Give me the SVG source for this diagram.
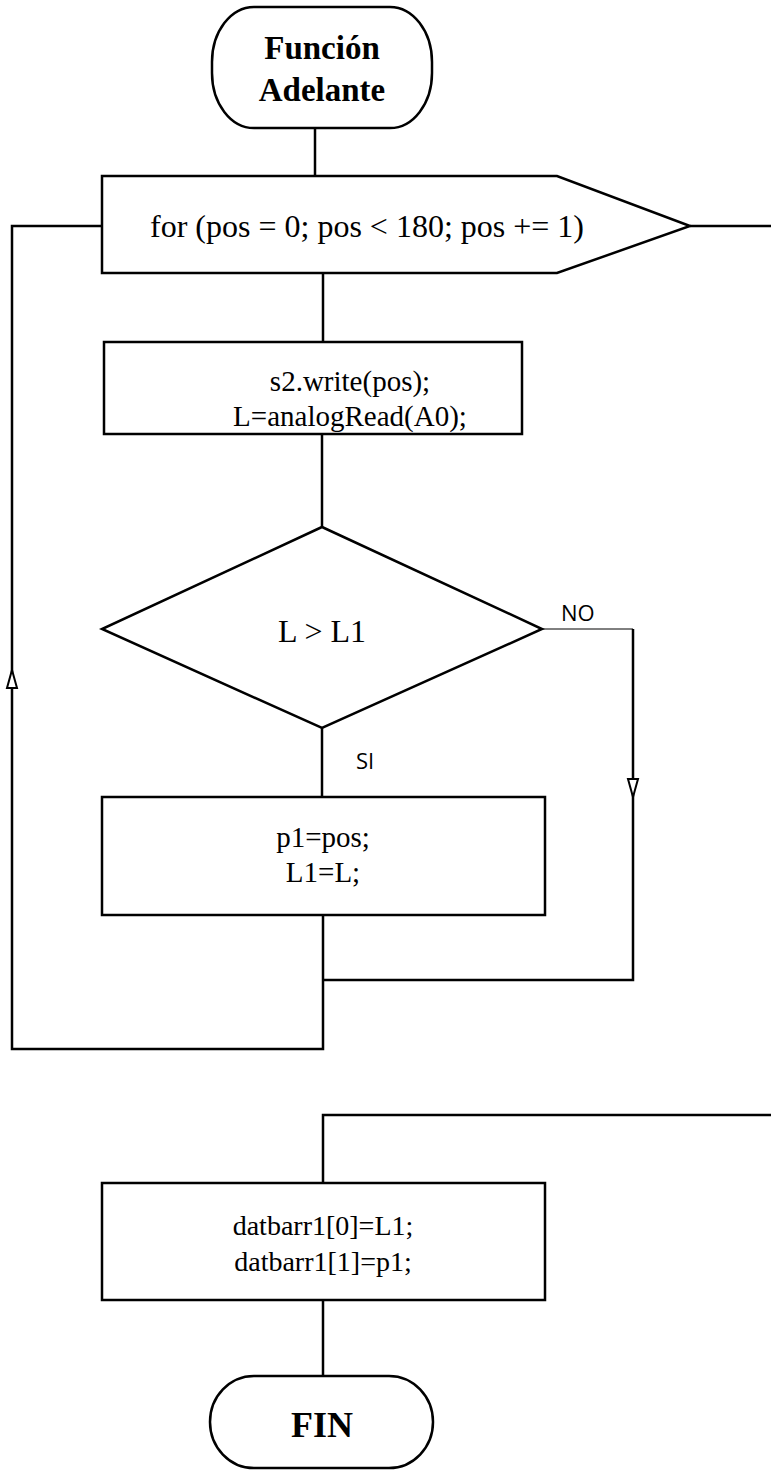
<svg xmlns="http://www.w3.org/2000/svg" width="771" height="1473" viewBox="0 0 771 1473">
<style>
.s{fill:#fff;stroke:#000;stroke-width:2.5}
.c{fill:none;stroke:#000;stroke-width:2.5}
.t{font-family:"Liberation Serif","Times New Roman",serif;font-size:28px;fill:#000;text-anchor:middle}
.b{font-weight:bold;font-size:33px}
.l{font-family:"Open Sans","Liberation Sans",sans-serif;font-size:22px;fill:#000}
.a{fill:#fff;stroke:#000;stroke-width:2}
</style>
<rect width="771" height="1473" fill="#fff"/>
<g id="connectors">
<path class="c" d="M315 128V176"/>
<path class="c" d="M690 226H771"/>
<path class="c" d="M323 273V342"/>
<path class="c" d="M322 434V527"/>
<path class="c" d="M322 728V797"/>
<path fill="none" stroke="#000" stroke-width="1" d="M542 629H633"/>
<path class="c" d="M633 629V980H323"/>
<path class="c" d="M323 915V1049H12V226H102"/>
<path class="c" d="M771 1115H323V1183"/>
<path class="c" d="M323 1300V1376"/>
<path class="a" d="M12 670L17 688H7Z"/>
<path class="a" d="M633 797L628 779H638Z"/>
<text class="l" x="561" y="621">NO</text>
<text class="l" x="356" y="769">SI</text>
</g>
<g id="inicio">
<rect class="s" x="212" y="7" width="220" height="121" rx="42" ry="55"/>
<text class="t b" x="322" y="59">Función</text>
<text class="t b" x="322" y="101">Adelante</text>
</g>
<g id="for">
<path class="s" d="M102 176H557L690 226L557 273H102Z"/>
<text class="t" x="367" y="237" style="font-size:32px">for (pos = 0; pos &lt; 180; pos += 1)</text>
</g>
<g id="write">
<rect class="s" x="104" y="342" width="418" height="92"/>
<text class="t" x="350" y="391" style="font-size:29px">s2.write(pos);</text>
<text class="t" x="350" y="426" style="font-size:29px">L=analogRead(A0);</text>
</g>
<g id="decision">
<path class="s" d="M322 527L542 629L322 728L102 629Z"/>
<text class="t" x="322" y="642" style="font-size:32px">L &gt; L1</text>
</g>
<g id="asignar">
<rect class="s" x="102" y="797" width="443" height="118"/>
<text class="t" x="323" y="847" style="font-size:29px">p1=pos;</text>
<text class="t" x="323" y="882" style="font-size:29px">L1=L;</text>
</g>
<g id="datos">
<rect class="s" x="102" y="1183" width="443" height="117"/>
<text class="t" x="323" y="1235">datbarr1[0]=L1;</text>
<text class="t" x="323" y="1271">datbarr1[1]=p1;</text>
</g>
<g id="fin">
<rect class="s" x="210" y="1376" width="223" height="92" rx="44" ry="46"/>
<text class="t b" x="322" y="1437" style="font-size:36px">FIN</text>
</g>
</svg>
